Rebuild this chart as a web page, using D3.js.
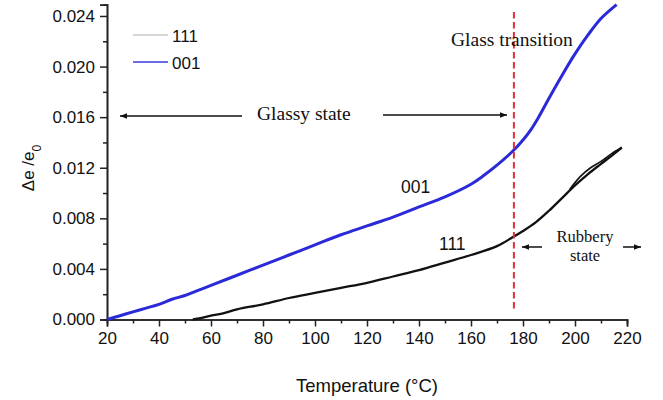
<!DOCTYPE html>
<html><head><meta charset="utf-8">
<script src="https://cdn.jsdelivr.net/npm/d3@7"></script>
<style>
body{margin:0;background:#fff}
text{font-family:"Liberation Sans",Arial,sans-serif;fill:#111}
.serif{font-family:"Liberation Serif","Times New Roman",serif}
</style>
</head><body><svg id="c" width="663" height="400"></svg>
<script>
// ---- data ----
const temp001 = [20,25,30,35,40,45,50,55,60,70,80,90,100,110,120,130,140,150,160,165,170,176,180,183,186,190,195,200,205,210,216];
const strain001 = [0,0.0003,0.0006,0.0009,0.0012,0.0016,0.0019,0.0023,0.0027,0.0035,0.0043,0.0051,0.0059,0.0067,0.0074,0.0081,0.0089,0.0097,0.0107,0.0114,0.0122,0.0133,0.0142,0.0150,0.0160,0.0175,0.0193,0.0210,0.0225,0.0238,0.0249];
const temp111 = [53,56,60,65,70,80,90,100,110,120,130,140,150,160,170,176,180,185,190,195,200,205,210,215,218];
const strain111 = [0,0.0001,0.0003,0.0005,0.0008,0.0012,0.0017,0.0021,0.0025,0.0029,0.0034,0.0039,0.0045,0.0051,0.0058,0.0065,0.0070,0.0077,0.0086,0.0096,0.0106,0.0115,0.0123,0.0131,0.0136];
const temp111back = [218,214,210,206,202,198];
const strain111back = [0.0136,0.0131,0.0125,0.0120,0.0113,0.0103];
const xTicks = [20,40,60,80,100,120,140,160,180,200,220];
const yTicks = [0,0.004,0.008,0.012,0.016,0.020,0.024];
const seriesNames = ["111","001"];
const glassTransition = 176.5;

// ---- scales ----
const svg = d3.select("#c");
const x = d3.scaleLinear().domain([20,220]).range([107,627]);
const y = d3.scaleLinear().domain([0,0.0249]).range([319.5,4.6]);

// axes
const xAxis = d3.axisBottom(x).tickValues(xTicks).tickFormat(d3.format("d")).tickSize(7).tickPadding(5);
const xMinor = d3.axisBottom(x).tickValues(d3.range(30,220,20)).tickFormat("").tickSize(4);
const yAxis = d3.axisLeft(y).tickValues(yTicks).tickFormat(d3.format(".3f")).tickSize(7).tickPadding(5);
const yMinor = d3.axisLeft(y).tickValues(d3.range(0.002,0.024,0.004)).tickFormat("").tickSize(4);

function style(g){
  g.selectAll("path.domain").attr("stroke","#222").attr("stroke-width",1.6);
  g.selectAll("line").attr("stroke","#222").attr("stroke-width",1.5);
  g.selectAll("text").attr("font-size",17).attr("fill","#111");
}
svg.append("g").attr("transform","translate(0,319.5)").call(xMinor).call(style);
svg.append("g").attr("transform","translate(0,319.5)").call(xAxis).call(style);
svg.append("g").attr("transform","translate(107,0)").call(yMinor).call(style);
svg.append("g").attr("transform","translate(107,0)").call(yAxis).call(style);

// titles
svg.append("text").attr("x",367).attr("y",392).attr("text-anchor","middle").attr("font-size",18.5).text("Temperature (°C)");
const yt = svg.append("text").attr("transform","translate(34,168) rotate(-90)").attr("text-anchor","middle").attr("font-size",17);
yt.append("tspan").text("Δe /e");
yt.append("tspan").attr("baseline-shift","sub").attr("font-size",12).text("0");

// lines
const line = d3.line().x(d=>x(d[0])).y(d=>y(d[1])).curve(d3.curveCatmullRom);
const d001 = d3.zip(temp001,strain001);
const d111 = d3.zip(temp111,strain111);
const d111b = d3.zip(temp111back,strain111back);
svg.append("path").attr("d",line(d111)).attr("fill","none").attr("stroke","#111").attr("stroke-width",2.3);
svg.append("path").attr("d",line(d111b)).attr("fill","none").attr("stroke","#111").attr("stroke-width",1.6);
svg.append("path").attr("d",line(d001)).attr("fill","none").attr("stroke","#2a2ad8").attr("stroke-width",3);

// glass transition
svg.append("line").attr("x1",x(glassTransition)).attr("x2",x(glassTransition)).attr("y1",12).attr("y2",310)
  .attr("stroke","#e0303a").attr("stroke-width",2).attr("stroke-dasharray","6.5,3.5");

// legend
const legColors = ["#c8c8c8","#3a3ae0"];
seriesNames.forEach((n,i)=>{
  const ly = 35 + i*27;
  svg.append("line").attr("x1",133).attr("x2",168).attr("y1",ly).attr("y2",ly).attr("stroke",legColors[i]).attr("stroke-width",1.5);
  svg.append("text").attr("x",172).attr("y",ly+6.5).attr("font-size",17).text(n);
});

// arrows
const defs = svg.append("defs");
defs.append("marker").attr("id","ah").attr("viewBox","0 0 10 10").attr("refX",10).attr("refY",5)
  .attr("markerWidth",7).attr("markerHeight",7).attr("markerUnits","userSpaceOnUse").attr("orient","auto")
  .append("path").attr("d","M0,1 L10,5 L0,9 Z").attr("fill","#111");
function arrow(x1,y1,x2,y2){
  svg.append("line").attr("x1",x1).attr("y1",y1).attr("x2",x2).attr("y2",y2)
    .attr("stroke","#111").attr("stroke-width",1.5).attr("marker-end","url(#ah)");
}
arrow(242,116,120,116);
arrow(383,115,507,115);
arrow(542,247,522,247);
arrow(623,247,641,247);

// annotations
svg.append("text").attr("class","serif").attr("x",257).attr("y",120).attr("font-size",19.5).text("Glassy state");
svg.append("text").attr("class","serif").attr("x",451).attr("y",46).attr("font-size",19.5).text("Glass transition");
svg.append("text").attr("class","serif").attr("x",585).attr("y",241.5).attr("text-anchor","middle").attr("font-size",16.5).text("Rubbery");
svg.append("text").attr("class","serif").attr("x",585).attr("y",261).attr("text-anchor","middle").attr("font-size",16.5).text("state");
svg.append("text").attr("x",401).attr("y",193).attr("font-size",17.5).text("001");
svg.append("text").attr("x",439).attr("y",250).attr("font-size",17.5).text("111");
</script>
</body></html>
